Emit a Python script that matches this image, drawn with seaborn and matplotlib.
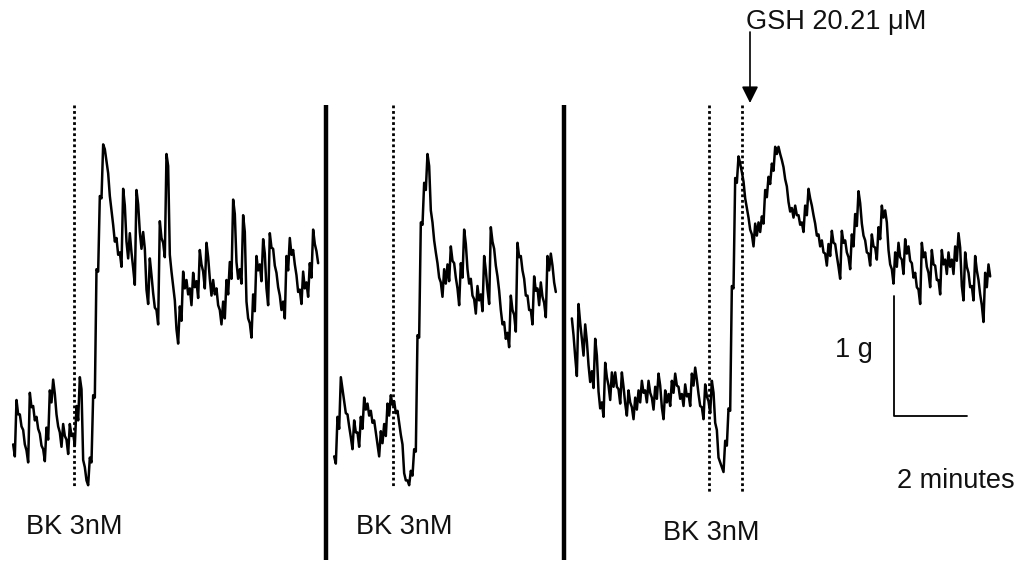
import numpy as np
import pandas as pd
import matplotlib
matplotlib.use("Agg")
import matplotlib.pyplot as plt
import seaborn as sns

# ---------------- data (tension in g, one sample every SAMPLE_S seconds) ----
SAMPLE_S = 5.5

trace1_g = [0.33, 0.69, 0.58, 0.44, 0.28, 0.75, 0.64, 0.56, 0.42, 0.29,
            0.47, 0.78, 0.86, 0.58, 0.42, 0.50, 0.36, 0.50, 0.42, 0.64,
            0.89, 0.22, 0.06, 0.25, 0.78, 1.83, 2.44, 2.86, 2.69, 2.39,
            2.14, 2.03, 1.92, 2.44, 2.00, 2.06, 1.78, 2.44, 2.08, 2.08,
            1.61, 1.86, 1.58, 1.44, 2.17, 2.00, 2.75, 1.89, 1.64, 1.28,
            1.47, 1.75, 1.69, 1.61, 1.75, 1.67, 1.94, 1.75, 2.00, 1.69,
            1.69, 1.61, 1.44, 1.50, 1.69, 1.83, 2.36, 1.83, 1.78, 2.22,
            1.50, 1.33, 1.56, 1.89, 1.81, 2.03, 1.61, 2.08, 1.94, 1.75,
            1.56, 1.50, 1.89, 2.03, 1.94, 1.72, 1.61, 1.75, 1.67, 1.83,
            2.11, 1.94]
# peak-to-peak width of the fast recorder noise around each sample (g)
noise1_g = [0.10, 0.12, 0.10, 0.12, 0.10, 0.12, 0.12, 0.10, 0.10, 0.10,
            0.10, 0.10, 0.12, 0.10, 0.12, 0.10, 0.12, 0.10, 0.10, 0.12,
            0.10, 0.06, 0.04, 0.04, 0.02, 0.02, 0.02, 0.04, 0.10, 0.12,
            0.14, 0.14, 0.12, 0.14, 0.14, 0.16, 0.14, 0.12, 0.14, 0.14,
            0.12, 0.14, 0.12, 0.12, 0.14, 0.12, 0.10, 0.14, 0.12, 0.12,
            0.12, 0.14, 0.12, 0.14, 0.12, 0.14, 0.12, 0.14, 0.12, 0.14,
            0.12, 0.14, 0.12, 0.14, 0.12, 0.14, 0.12, 0.14, 0.12, 0.14,
            0.14, 0.12, 0.14, 0.12, 0.14, 0.12, 0.14, 0.12, 0.14, 0.12,
            0.12, 0.14, 0.12, 0.14, 0.12, 0.14, 0.12, 0.14, 0.12, 0.12,
            0.12, 0.10]

trace2_g = [0.25, 0.56, 0.89, 0.69, 0.58, 0.39, 0.53, 0.42, 0.56, 0.72,
            0.67, 0.61, 0.53, 0.33, 0.44, 0.50, 0.67, 0.75, 0.69, 0.61,
            0.42, 0.11, 0.06, 0.14, 0.33, 1.28, 2.22, 2.53, 2.75, 2.28,
            2.03, 1.83, 1.67, 1.78, 1.81, 1.97, 1.83, 1.61, 1.83, 2.11,
            1.78, 1.69, 1.53, 1.64, 1.56, 1.89, 1.61, 2.13, 1.94, 1.72,
            1.44, 1.33, 1.25, 1.56, 1.39, 2.00, 1.89, 1.69, 1.56, 1.44,
            1.72, 1.61, 1.67, 1.50, 1.89, 1.92, 1.69]
noise2_g = [0.06, 0.10, 0.10, 0.10, 0.10, 0.10, 0.10, 0.12, 0.10, 0.10,
            0.10, 0.10, 0.10, 0.10, 0.10, 0.10, 0.10, 0.08, 0.10, 0.10,
            0.08, 0.06, 0.04, 0.04, 0.02, 0.02, 0.02, 0.06, 0.10, 0.10,
            0.10, 0.12, 0.12, 0.12, 0.14, 0.12, 0.12, 0.14, 0.12, 0.12,
            0.12, 0.14, 0.12, 0.12, 0.14, 0.12, 0.12, 0.12, 0.14, 0.12,
            0.12, 0.14, 0.12, 0.12, 0.14, 0.12, 0.12, 0.14, 0.12, 0.12,
            0.12, 0.14, 0.12, 0.12, 0.12, 0.10, 0.08]

trace3_g = [1.36, 1.03, 1.47, 1.19, 1.31, 0.97, 0.92, 1.19, 0.75, 0.67,
            1.00, 0.81, 0.92, 0.92, 0.78, 0.92, 0.67, 0.78, 0.64, 0.72,
            0.78, 0.86, 0.78, 0.86, 0.72, 0.81, 0.92, 0.64, 0.78, 0.75,
            0.86, 0.92, 0.81, 0.75, 0.83, 0.75, 0.92, 0.97, 0.75, 0.64,
            0.83, 0.69, 0.86, 0.53, 0.25, 0.17, 0.39, 0.67, 1.69, 2.58,
            2.75, 2.61, 2.39, 2.22, 2.08, 2.17, 2.19, 2.25, 2.47, 2.58,
            2.69, 2.83, 2.83, 2.72, 2.56, 2.36, 2.31, 2.33, 2.25,
            2.19, 2.33, 2.47, 2.33, 2.17, 2.08, 2.03, 1.92, 2.00, 2.11,
            2.00, 1.81, 2.11, 2.03, 1.89, 2.08, 2.25, 2.44, 2.17, 2.03,
            1.92, 2.08, 1.97, 2.14, 2.32, 2.28, 1.94, 1.78, 1.92, 2.00,
            1.86, 2.03, 1.97, 1.83, 1.75, 1.61, 2.00, 1.92, 1.75, 1.94,
            1.81, 1.69, 1.94, 1.86, 1.92, 1.86, 1.97, 2.08, 1.64, 1.92,
            1.75, 1.64, 1.89, 1.69, 1.47, 1.75, 1.83]
noise3_g = [0.14, 0.16, 0.16, 0.14, 0.14, 0.14, 0.14, 0.14, 0.14, 0.12,
            0.12, 0.12, 0.12, 0.12, 0.12, 0.12, 0.10, 0.10, 0.10, 0.10,
            0.10, 0.10, 0.10, 0.10, 0.10, 0.10, 0.10, 0.10, 0.10, 0.10,
            0.10, 0.10, 0.10, 0.10, 0.10, 0.10, 0.10, 0.10, 0.10, 0.10,
            0.10, 0.10, 0.10, 0.06, 0.04, 0.04, 0.04, 0.02, 0.02, 0.04,
            0.06, 0.08, 0.08, 0.10, 0.10, 0.10, 0.08, 0.06, 0.06, 0.06,
            0.06, 0.06, 0.06, 0.06, 0.06, 0.08, 0.08, 0.08, 0.08,
            0.08, 0.08, 0.08, 0.08, 0.10, 0.10, 0.10, 0.10, 0.10, 0.10,
            0.10, 0.10, 0.10, 0.10, 0.10, 0.10, 0.10, 0.10, 0.10, 0.10,
            0.10, 0.10, 0.10, 0.10, 0.10, 0.10, 0.12, 0.12, 0.12, 0.12,
            0.12, 0.12, 0.12, 0.12, 0.12, 0.12, 0.12, 0.12, 0.12, 0.12,
            0.12, 0.12, 0.12, 0.12, 0.12, 0.12, 0.12, 0.12, 0.12, 0.12,
            0.12, 0.12, 0.12, 0.12, 0.14, 0.12, 0.10]

bk_label = "BK 3nM"
gsh_label = "GSH 20.21 μM"
bk_times_s = [99, 96, 225]      # BK addition, seconds after each panel start
gsh_time_s = 279                 # GSH addition in panel 3
scale_bar_g = 1
scale_bar_s = 120
scale_labels = ["1 g", "2 minutes"]

# ---------------- layout ----------------------------------------------------
W_PX, H_PX, DPI = 1028, 563, 100
PX_PER_S = 0.606
PX_PER_G = 120.0
BASE_PX = 490.0                  # pixel row of 0 g
panel_start_px = [14, 335, 572.7]


def sx(px):
    return px / PX_PER_S


def gy(py):
    return (BASE_PX - py) / PX_PER_G


sns.set_style("white")
plt.rcParams["font.family"] = ["Liberation Sans", "DejaVu Sans"]

# recorder-style rendering: each sample drawn as a high/low stroke
rows = []
for k, (tr, nz) in enumerate([(trace1_g, noise1_g), (trace2_g, noise2_g),
                              (trace3_g, noise3_g)]):
    t0 = sx(panel_start_px[k])
    for i, (g, a) in enumerate(zip(tr, nz)):
        t = t0 + i * SAMPLE_S
        rows.append({"panel": k, "t": t - SAMPLE_S / 4, "g": g + a / 2})
        rows.append({"panel": k, "t": t + SAMPLE_S / 4, "g": g - a / 2})
df = pd.DataFrame(rows)

fig = plt.figure(figsize=(W_PX / DPI, H_PX / DPI), dpi=DPI)
ax = fig.add_axes([0, 0, 1, 1])
ax.set_xlim(0, sx(W_PX))
ax.set_ylim(gy(H_PX), gy(0))
ax.axis("off")

sns.lineplot(data=df, x="t", y="g", units="panel", estimator=None,
             sort=False, color="black", lw=1.8, legend=False, ax=ax)

# BK markers (dotted)
dot_style = dict(color="black", lw=2.0, linestyle=(0, (1.0, 1.0)))
for k, bt in enumerate(bk_times_s):
    x = sx(panel_start_px[k]) + bt
    bottom = gy(487) if k < 2 else gy(492)
    ax.plot([x, x], [gy(105), bottom], **dot_style)
# GSH marker (dotted)
xg = sx(panel_start_px[2]) + gsh_time_s
ax.plot([xg, xg], [gy(105), gy(492)], **dot_style)

# panel separators
for px in [326, 564]:
    ax.plot([sx(px), sx(px)], [gy(105), gy(560)], color="black", lw=3.2,
            solid_capstyle="butt")

# GSH arrow + label
ax.annotate("", xy=(sx(750), gy(103)), xytext=(sx(750), gy(32)),
            arrowprops=dict(arrowstyle="-|>,head_length=1.0,head_width=0.5",
                            color="black", lw=1.2, shrinkA=0, shrinkB=0))
ax.text(sx(746), gy(22), gsh_label, fontsize=19.5, ha="left", va="center",
        color="#111111")

# BK labels
for px, py in [(74, 527), (404, 527), (711, 533)]:
    ax.text(sx(px), gy(py), bk_label, fontsize=19.5, ha="center",
            va="center", color="#111111")

# scale bar
x0, y0 = sx(894), gy(416)
ax.plot([x0, x0, x0 + scale_bar_s], [y0 + scale_bar_g, y0, y0],
        color="black", lw=1.3)
ax.text(sx(854), gy(350), scale_labels[0], fontsize=19.5, ha="center",
        va="center", color="#111111")
ax.text(sx(956), gy(481), scale_labels[1], fontsize=19.5, ha="center",
        va="center", color="#111111")

fig.savefig("out.png", dpi=DPI)
